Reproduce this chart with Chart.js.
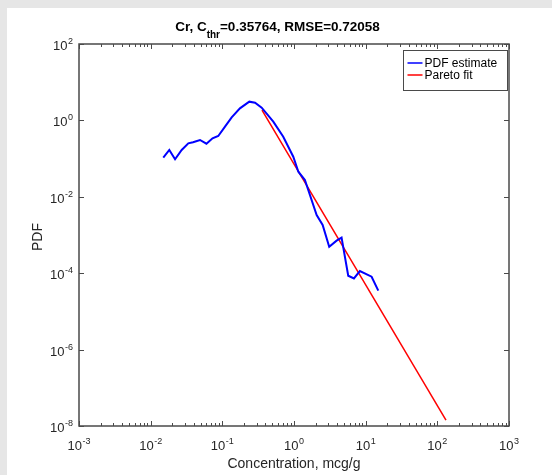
<!DOCTYPE html>
<html>
<head>
<meta charset="utf-8">
<script src="https://cdn.jsdelivr.net/npm/chart.js@4"></script>
<style>
  html, body { margin: 0; padding: 0; background: #e6e6e6; overflow: hidden; }
  #painel { position: absolute; left: 7px; top: 8px; width: 545px; height: 467px; background: #ffffff; }
  canvas { display: block; }
</style>
</head>
<body>
<div id="painel"><canvas id="pdf-cr" width="545" height="467"></canvas></div>
<script>
// Estimativa da PDF (concentração em mcg/g x densidade)
var concentracoes = [0.015, 0.0182, 0.0219, 0.0271, 0.0335, 0.039, 0.0488, 0.060, 0.073, 0.0877,
                     0.109, 0.135, 0.176, 0.238, 0.286, 0.354, 0.514, 0.708, 0.977, 1.15,
                     1.42, 2.07, 2.51, 3.10, 3.93, 4.61, 5.71, 6.86, 8.3, 12.1, 15.0];
var pdfEstimada = [0.106, 0.168, 0.096, 0.168, 0.251, 0.267, 0.307, 0.245, 0.34, 0.39,
                   0.685, 1.2, 2.07, 3.09, 2.9, 2.15, 0.925, 0.374, 0.112, 0.0454,
                   0.0275, 0.00334, 0.00183, 4.94e-4, 7.1e-4, 8.5e-4, 8.6e-5, 7.3e-5, 1.14e-4, 8.1e-5, 3.5e-5];

// Ajuste de Pareto a partir do limiar C_thr
var paretoX = [0.35764, 132];
var paretoY = [1.87, 1.43e-8];

// Expoentes dos rótulos dos eixos (potências de 10)
var expoentesX = [-3, -2, -1, 0, 1, 2, 3];
var expoentesY = [-8, -6, -4, -2, 0, 2];

// Textos
var nomesSeries = ['PDF estimate', 'Pareto fit'];
var tituloPartes = ['Cr, C', 'thr', '=0.35764, RMSE=0.72058'];
var tituloX = 'Concentration, mcg/g';
var tituloY = 'PDF';

var fonte = '"Liberation Sans", Arial, sans-serif';
var corEixo = '#262626';

// Junta x e y em pontos para o Chart.js
function pontos(xs, ys) {
    return xs.map(function(x, i) {
        return { x: x, y: ys[i] };
    });
}

// Escreve 10 com expoente sobrescrito
function potencia(ctx, exp, x, y, align) {
    ctx.font = '13px ' + fonte;
    var wBase = ctx.measureText('10').width;
    ctx.font = '9px ' + fonte;
    var sup = String(exp);
    var wSup = ctx.measureText(sup).width;
    var total = wBase + 0.5 + wSup;
    var x0 = align === 'right' ? x - total : x - total / 2;
    ctx.textAlign = 'left';
    ctx.textBaseline = 'alphabetic';
    ctx.font = '13px ' + fonte;
    ctx.fillText('10', x0, y);
    ctx.font = '9px ' + fonte;
    ctx.fillText(sup, x0 + wBase + 0.5, y - 6);
}

// Plugin que desenha moldura, ticks, rótulos, títulos e legenda no estilo MATLAB
var estiloMatlab = {
    id: 'estiloMatlab',
    afterDraw: function(chart) {
        var ctx = chart.ctx;
        var a = chart.chartArea;
        var sx = chart.scales.x;
        var sy = chart.scales.y;
        ctx.save();

        // Moldura
        ctx.strokeStyle = '#4a4a4a';
        ctx.lineWidth = 1.5;
        ctx.strokeRect(Math.round(a.left), Math.round(a.top),
                       Math.round(a.right - a.left), Math.round(a.bottom - a.top));

        // Ticks do eixo x (maiores e menores), em baixo e em cima
        ctx.lineWidth = 1;
        ctx.beginPath();
        expoentesX.forEach(function(e) {
            for (var k = 1; k <= 9; k++) {
                if (e === expoentesX[expoentesX.length - 1] && k > 1) break;
                var px = Math.round(sx.getPixelForValue(k * Math.pow(10, e))) + 0.5;
                var len = k === 1 ? 5 : 3;
                ctx.moveTo(px, a.bottom);
                ctx.lineTo(px, a.bottom - len);
                ctx.moveTo(px, a.top);
                ctx.lineTo(px, a.top + len);
            }
        });
        // Ticks do eixo y, à esquerda e à direita
        expoentesY.forEach(function(e) {
            var py = Math.round(sy.getPixelForValue(Math.pow(10, e))) + 0.5;
            ctx.moveTo(a.left, py);
            ctx.lineTo(a.left + 5, py);
            ctx.moveTo(a.right, py);
            ctx.lineTo(a.right - 5, py);
        });
        ctx.stroke();

        // Rótulos dos ticks
        ctx.fillStyle = corEixo;
        expoentesX.forEach(function(e) {
            potencia(ctx, e, sx.getPixelForValue(Math.pow(10, e)), a.bottom + 24);
        });
        expoentesY.forEach(function(e) {
            potencia(ctx, e, a.left - 6, sy.getPixelForValue(Math.pow(10, e)) + 6, 'right');
        });

        // Títulos dos eixos
        ctx.font = '14px ' + fonte;
        ctx.textAlign = 'center';
        ctx.textBaseline = 'alphabetic';
        ctx.fillText(tituloX, (a.left + a.right) / 2, 460);
        ctx.save();
        ctx.translate(31, (a.top + a.bottom) / 2 + 2);
        ctx.rotate(-Math.PI / 2);
        ctx.textBaseline = 'middle';
        ctx.fillText(tituloY, 0, 0);
        ctx.restore();

        // Título com subscrito
        ctx.fillStyle = '#000000';
        ctx.textAlign = 'left';
        ctx.font = 'bold 13.5px ' + fonte;
        var w1 = ctx.measureText(tituloPartes[0]).width;
        var w3 = ctx.measureText(tituloPartes[2]).width;
        ctx.font = 'bold 10px ' + fonte;
        var w2 = ctx.measureText(tituloPartes[1]).width;
        var tx = 270.5 - (w1 + w2 + w3) / 2;
        ctx.font = 'bold 13.5px ' + fonte;
        ctx.fillText(tituloPartes[0], tx, 23);
        ctx.fillText(tituloPartes[2], tx + w1 + w2, 23);
        ctx.font = 'bold 10px ' + fonte;
        ctx.fillText(tituloPartes[1], tx + w1, 30);

        // Legenda
        var lx = 396.5, ly = 42.5, lw = 104, lh = 40;
        ctx.fillStyle = '#ffffff';
        ctx.fillRect(lx, ly, lw, lh);
        ctx.strokeStyle = '#4a4a4a';
        ctx.lineWidth = 1;
        ctx.strokeRect(lx, ly, lw, lh);
        chart.data.datasets.forEach(function(ds, i) {
            var yy = 55 + i * 12;
            ctx.strokeStyle = ds.borderColor;
            ctx.lineWidth = 1.5;
            ctx.beginPath();
            ctx.moveTo(lx + 4, yy);
            ctx.lineTo(lx + 19, yy);
            ctx.stroke();
            ctx.fillStyle = '#000000';
            ctx.font = '12px ' + fonte;
            ctx.textBaseline = 'middle';
            ctx.fillText(ds.label, lx + 21, yy + 0.5);
        });

        ctx.restore();
    }
};

var ctx = document.getElementById('pdf-cr').getContext('2d');

var grafico = new Chart(ctx, {
    type: 'scatter',
    data: {
        datasets: [{
            label: nomesSeries[0],
            data: pontos(concentracoes, pdfEstimada),
            showLine: true,
            borderColor: '#0000ff',
            borderWidth: 2,
            pointRadius: 0,
            tension: 0
        }, {
            label: nomesSeries[1],
            data: pontos(paretoX, paretoY),
            showLine: true,
            borderColor: '#ff0000',
            borderWidth: 1.5,
            pointRadius: 0,
            tension: 0
        }]
    },
    options: {
        responsive: false,
        animation: false,
        devicePixelRatio: 1,
        layout: {
            padding: { left: 72, right: 43, top: 36, bottom: 49 }
        },
        plugins: {
            legend: { display: false },
            title: { display: false },
            tooltip: { enabled: false }
        },
        scales: {
            x: { type: 'logarithmic', min: 1e-3, max: 1e3, display: false },
            y: { type: 'logarithmic', min: 1e-8, max: 1e2, display: false }
        }
    },
    plugins: [estiloMatlab]
});
</script>
</body>
</html>
